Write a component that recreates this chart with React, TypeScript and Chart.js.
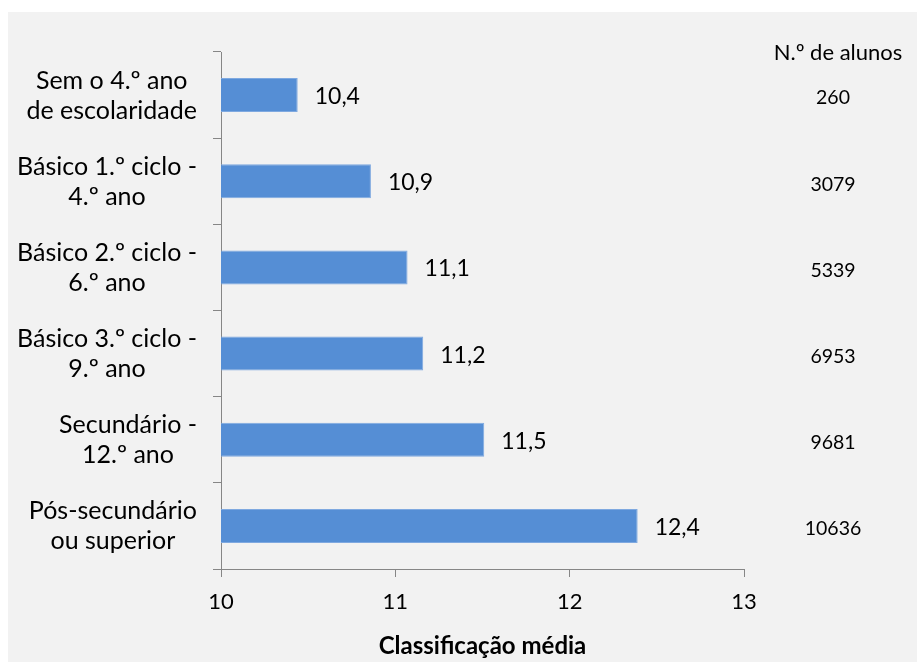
import { useEffect, useRef } from "react";
import { Chart, registerables } from "chart.js";

Chart.register(...registerables);

const categories: string[][] = [
  ["Sem o 4.º ano", "de escolaridade"],
  ["Básico 1.º ciclo -", "4.º ano"],
  ["Básico 2.º ciclo -", "6.º ano"],
  ["Básico 3.º ciclo -", "9.º ano"],
  ["Secundário -", "12.º ano"],
  ["Pós-secundário", "ou superior"],
];
const meanGrades = [10.44, 10.86, 11.07, 11.16, 11.51, 12.39];
const studentCounts = [260, 3079, 5339, 6953, 9681, 10636];
const xMin = 10;
const xMax = 13;
const xStep = 1;
const countHeader = "N.º de alunos";
const xTitle = "Classificação média";

const FONT = "Lato, 'Open Sans', sans-serif";

const fmt = (v: number) => v.toFixed(1).replace(".", ",");

const overlay = {
  id: "overlay",
  afterDatasetsDraw(chart: any) {
    const ctx = chart.ctx as CanvasRenderingContext2D;
    const ys = chart.scales.y;
    const area = chart.chartArea;
    const meta = chart.getDatasetMeta(0);
    ctx.save();
    ctx.fillStyle = "#000";
    ctx.textBaseline = "middle";

    // category labels (block right-aligned, lines centered within block)
    ctx.font = `25px ${FONT}`;
    ctx.textAlign = "center";
    categories.forEach((lines, i) => {
      const cy = ys.getPixelForValue(i) + 0.5;
      const maxW = Math.max(...lines.map((l) => ctx.measureText(l).width));
      const right = area.left - 24;
      const cx = right - maxW / 2;
      const lh = 30;
      lines.forEach((l, k) => {
        ctx.fillText(l, cx, cy + (k - (lines.length - 1) / 2) * lh);
      });
    });

    // value labels
    ctx.font = `23px ${FONT}`;
    ctx.textAlign = "left";
    meta.data.forEach((el: any, i: number) => {
      ctx.fillText(fmt(meanGrades[i]), el.x + 17, el.y + 1.5);
    });

    // right column
    const colX = area.right + 89;
    ctx.textAlign = "center";
    ctx.font = `22px ${FONT}`;
    ctx.fillText(countHeader, colX + 5, area.top + 1);
    ctx.font = `19.5px ${FONT}`;
    studentCounts.forEach((n, i) => {
      ctx.fillText(String(n), colX, ys.getPixelForValue(i) + 3);
    });
    ctx.restore();
  },
};

export default function App() {
  const ref = useRef<HTMLCanvasElement | null>(null);
  useEffect(() => {
    if (!ref.current) return;
    const axisColor = "#868686";
    const chart = new Chart(ref.current, {
      type: "bar",
      data: {
        labels: categories,
        datasets: [
          {
            data: meanGrades,
            backgroundColor: "#558ED5",
            borderColor: "#7FA9E0",
            borderWidth: 1,
            barPercentage: 0.394,
            categoryPercentage: 1,
          },
        ],
      },
      options: {
        indexAxis: "y",
        animation: false,
        responsive: false,
        maintainAspectRatio: false,
        layout: { padding: { top: 40, right: 173, left: 0, bottom: 0 } },
        plugins: {
          legend: { display: false },
          tooltip: { enabled: false },
        },
        scales: {
          x: {
            type: "linear",
            min: xMin,
            max: xMax,
            ticks: {
              stepSize: xStep,
              color: "#000",
              font: { family: FONT, size: 22 },
              padding: 12,
              callback: (v: any) => String(v),
            },
            grid: {
              drawOnChartArea: false,
              drawTicks: true,
              tickLength: 8,
              color: axisColor,
            },
            border: { display: true, color: axisColor, width: 1 },
            title: {
              display: true,
              text: xTitle,
              color: "#000",
              font: { family: FONT, size: 24, weight: "bold" },
              padding: { top: 4, bottom: 1 },
            },
            afterFit: (s: any) => {
              s.height = 93;
            },
          },
          y: {
            type: "category",
            ticks: { display: false },
            grid: {
              offset: true,
              drawOnChartArea: false,
              drawTicks: true,
              tickLength: 8,
              color: axisColor,
            },
            border: { display: true, color: axisColor, width: 1 },
            afterFit: (s: any) => {
              s.width = 213;
            },
          },
        },
      } as any,
      plugins: [overlay],
    });
    return () => chart.destroy();
  }, []);
  return (
    <div
      style={{
        position: "fixed",
        left: 8,
        top: 12,
        width: 909,
        height: 650,
        background: "#F2F2F2",
      }}
    >
      <canvas ref={ref} width={909} height={650} style={{ display: "block" }} />
    </div>
  );
}
